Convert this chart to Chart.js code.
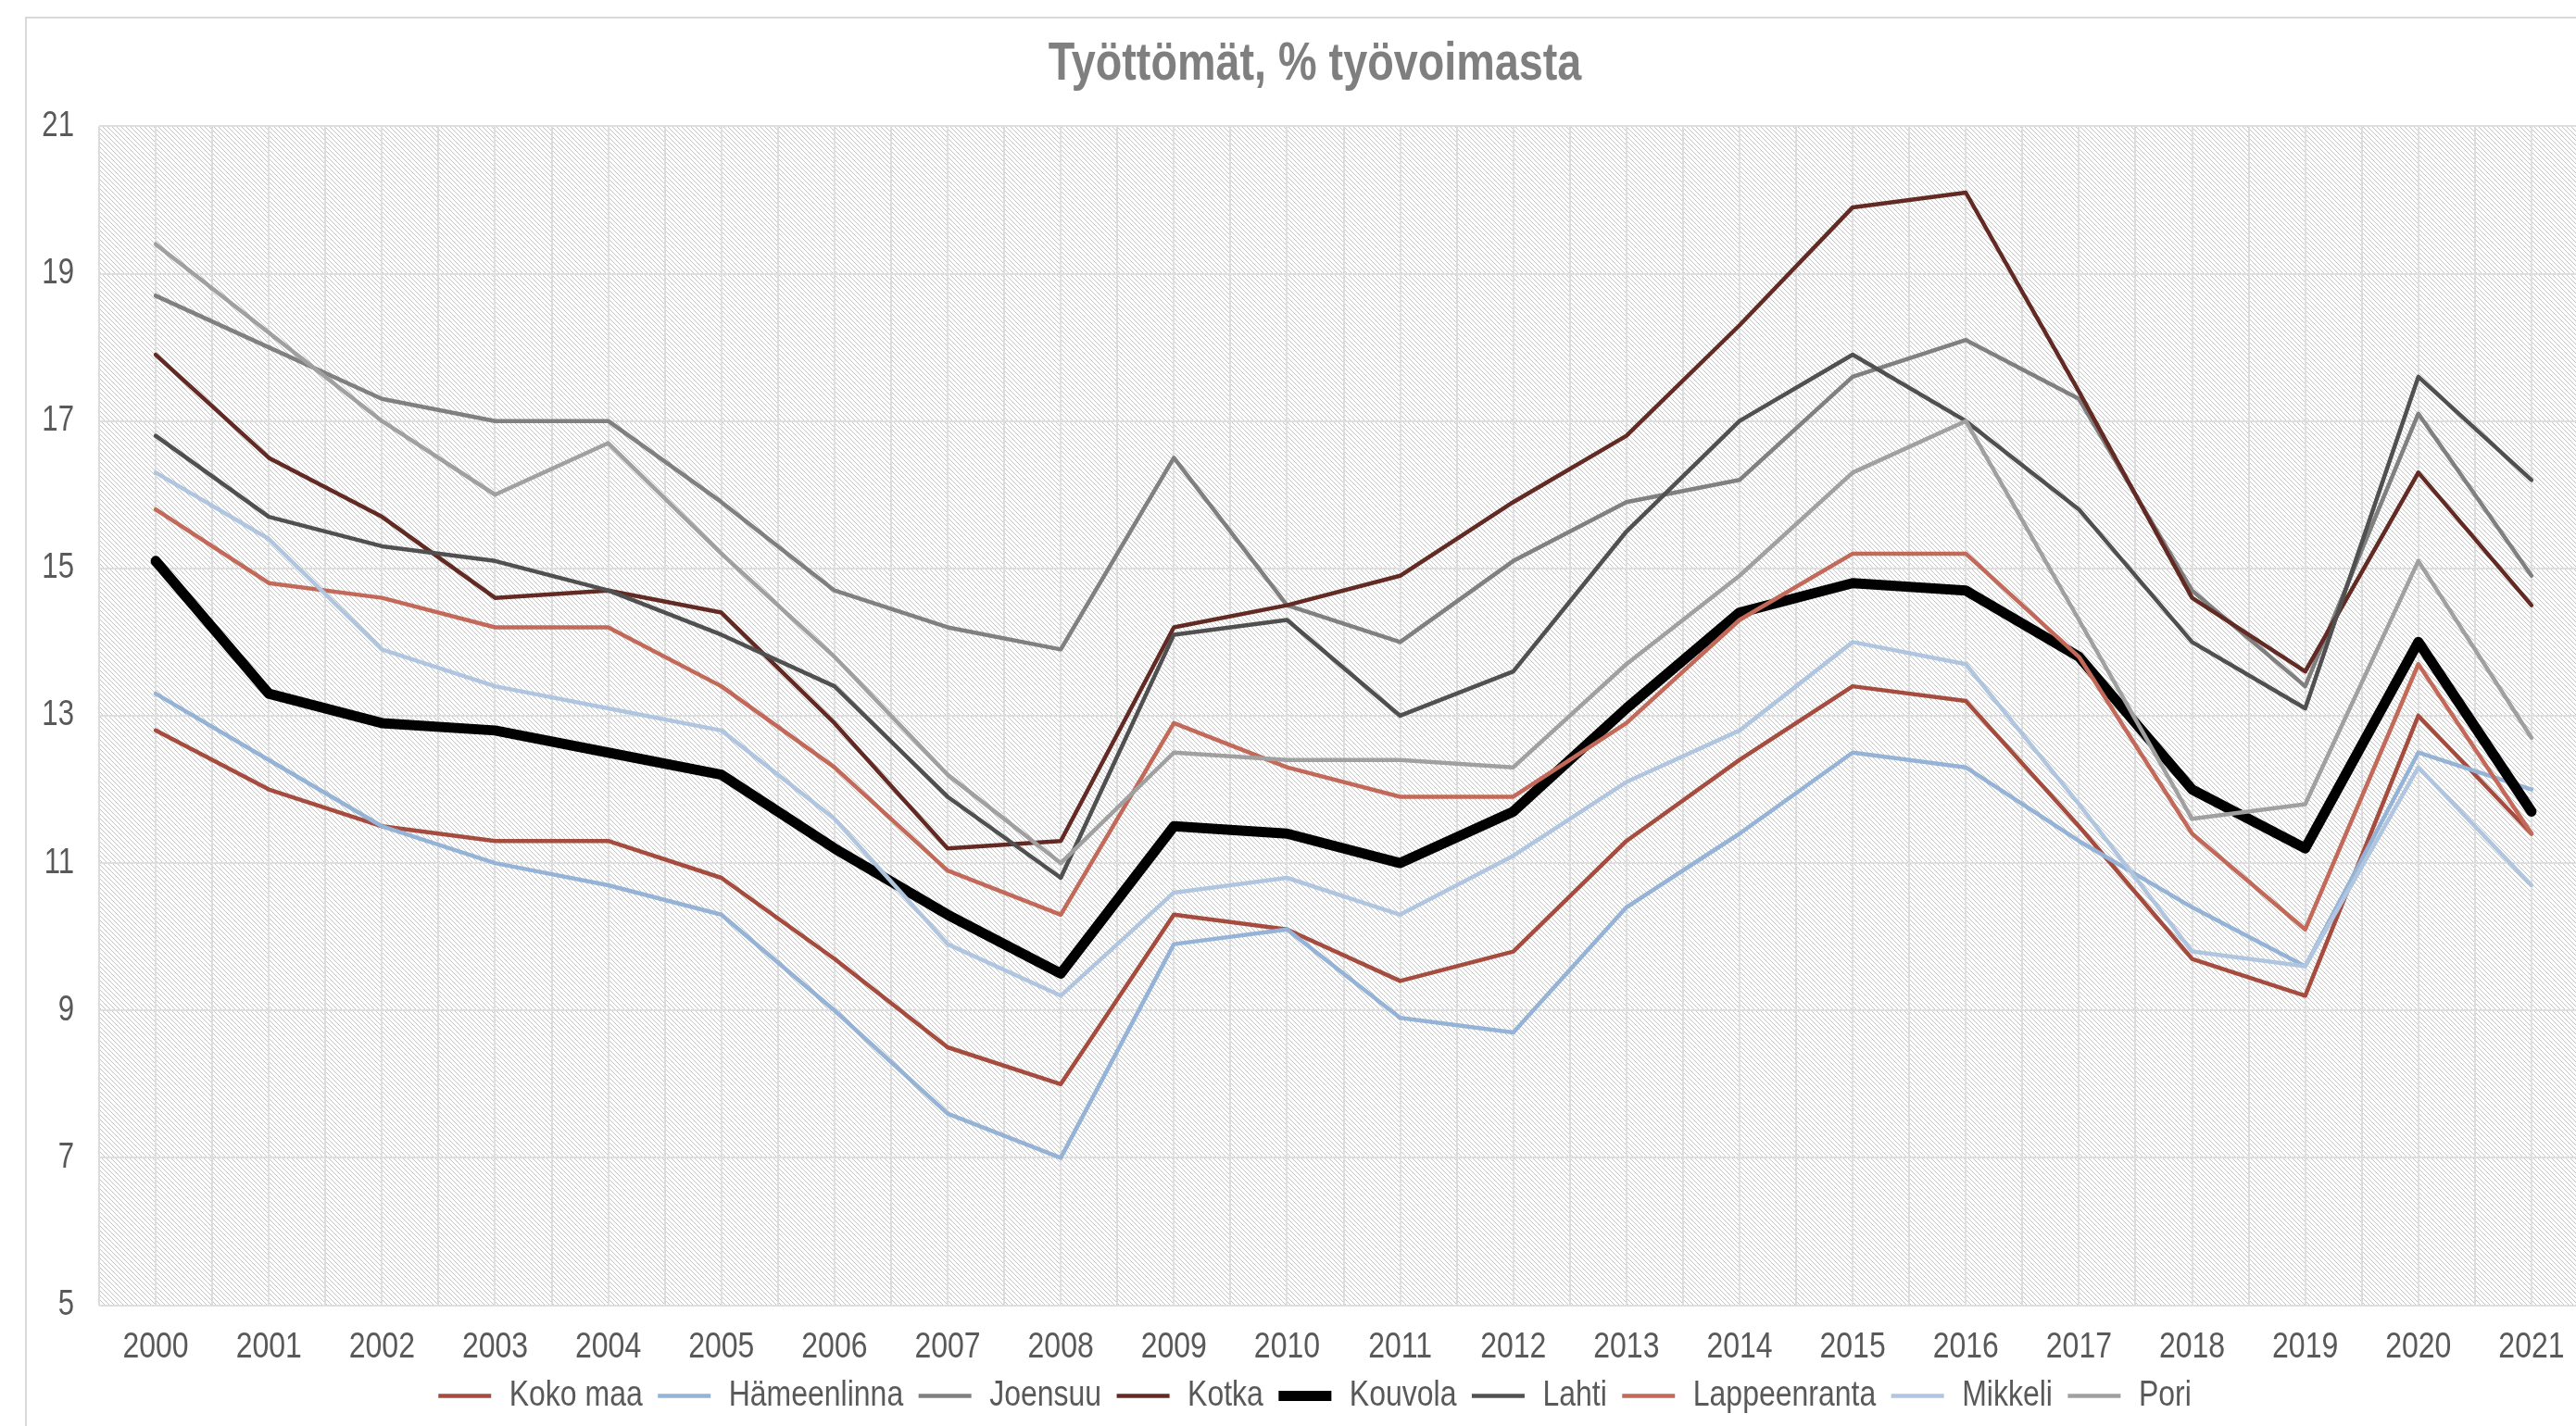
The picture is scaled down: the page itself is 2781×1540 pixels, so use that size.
<!DOCTYPE html>
<html>
<head>
<meta charset="utf-8">
<script src="https://cdn.jsdelivr.net/npm/chart.js@4.4.1/dist/chart.umd.min.js"></script>
<style>
html,body{margin:0;padding:0;background:#fff;overflow:hidden;width:2781px;height:1540px;}
#wrap{position:absolute;left:27px;top:18px;width:2788px;height:1540px;border:2px solid #d9d9d9;background:#fff;}
canvas{display:block;}
</style>
</head>
<body>
<div id="wrap"><canvas id="c" width="2788" height="1520"></canvas></div>
<script>
const years = ['2000','2001','2002','2003','2004','2005','2006','2007','2008','2009','2010','2011','2012','2013','2014','2015','2016','2017','2018','2019','2020','2021'];
const yTicks = [5, 7, 9, 11, 13, 15, 17, 19, 21];
const titleText = 'Työttömät, % työvoimasta';

const kokoMaa      = [12.8, 12.0, 11.5, 11.3, 11.3, 10.8, 9.7, 8.5, 8.0, 10.3, 10.1, 9.4, 9.8, 11.3, 12.4, 13.4, 13.2, 11.5, 9.7, 9.2, 13.0, 11.4];
const hameenlinna  = [13.3, 12.4, 11.5, 11.0, 10.7, 10.3, 9.0, 7.6, 7.0, 9.9, 10.1, 8.9, 8.7, 10.4, 11.4, 12.5, 12.3, 11.3, 10.4, 9.6, 12.5, 12.0];
const joensuu      = [18.7, 18.0, 17.3, 17.0, 17.0, 15.9, 14.7, 14.2, 13.9, 16.5, 14.5, 14.0, 15.1, 15.9, 16.2, 17.6, 18.1, 17.3, 14.7, 13.4, 17.1, 14.9];
const kotka        = [17.9, 16.5, 15.7, 14.6, 14.7, 14.4, 12.9, 11.2, 11.3, 14.2, 14.5, 14.9, 15.9, 16.8, 18.3, 19.9, 20.1, 17.4, 14.6, 13.6, 16.3, 14.5];
const kouvola      = [15.1, 13.3, 12.9, 12.8, 12.5, 12.2, 11.2, 10.3, 9.5, 11.5, 11.4, 11.0, 11.7, 13.1, 14.4, 14.8, 14.7, 13.8, 12.0, 11.2, 14.0, 11.7];
const lahti        = [16.8, 15.7, 15.3, 15.1, 14.7, 14.1, 13.4, 11.9, 10.8, 14.1, 14.3, 13.0, 13.6, 15.5, 17.0, 17.9, 17.0, 15.8, 14.0, 13.1, 17.6, 16.2];
const lappeenranta = [15.8, 14.8, 14.6, 14.2, 14.2, 13.4, 12.3, 10.9, 10.3, 12.9, 12.3, 11.9, 11.9, 12.9, 14.3, 15.2, 15.2, 13.8, 11.4, 10.1, 13.7, 11.4];
const mikkeli      = [16.3, 15.4, 13.9, 13.4, 13.1, 12.8, 11.6, 9.9, 9.2, 10.6, 10.8, 10.3, 11.1, 12.1, 12.8, 14.0, 13.7, 11.8, 9.8, 9.6, 12.3, 10.7];
const pori         = [19.4, 18.2, 17.0, 16.0, 16.7, 15.2, 13.8, 12.2, 11.0, 12.5, 12.4, 12.4, 12.3, 13.7, 14.9, 16.3, 17.0, 14.3, 11.6, 11.8, 15.1, 12.7];

const seriesNames = ['Koko maa','Hämeenlinna','Joensuu','Kotka','Kouvola','Lahti','Lappeenranta','Mikkeli','Pori'];
const seriesData  = [kokoMaa, hameenlinna, joensuu, kotka, kouvola, lahti, lappeenranta, mikkeli, pori];
const seriesColors = ['#a64c3e','#95b3d7','#808080','#632a24','#000000','#505050','#c3695a','#b0c6e0','#a0a0a0'];
const seriesWidths = [4.5, 4.5, 4.5, 4.5, 11, 4.5, 4.5, 4.5, 4.5];

const FONT = "'Liberation Sans', Arial, sans-serif";
Chart.defaults.font.family = FONT;

// Arial Narrow look: horizontally condense the chart's text (real text, drawn by the library)
const NARROW = 0.82;
const narrowText = {
  id: 'narrowText',
  beforeInit(chart) {
    const ctx = chart.ctx;
    const origFill = ctx.fillText.bind(ctx);
    const origMeasure = ctx.measureText.bind(ctx);
    ctx.fillText = function(text, x, y, maxWidth) {
      ctx.save();
      ctx.translate(x, y);
      ctx.scale(NARROW, 1);
      if (maxWidth === undefined || maxWidth === null) origFill(text, 0, 0);
      else origFill(text, 0, 0, maxWidth / NARROW);
      ctx.restore();
    };
    ctx.measureText = function(text) {
      const m = origMeasure(text);
      return {
        width: m.width * NARROW,
        actualBoundingBoxLeft: m.actualBoundingBoxLeft * NARROW,
        actualBoundingBoxRight: m.actualBoundingBoxRight * NARROW,
        actualBoundingBoxAscent: m.actualBoundingBoxAscent,
        actualBoundingBoxDescent: m.actualBoundingBoxDescent,
        fontBoundingBoxAscent: m.fontBoundingBoxAscent,
        fontBoundingBoxDescent: m.fontBoundingBoxDescent
      };
    };
  }
};

// hatch pattern for plot area
const tile = document.createElement('canvas');
tile.width = 5; tile.height = 5;
const tctx = tile.getContext('2d');
tctx.fillStyle = '#ffffff'; tctx.fillRect(0,0,5,5);
tctx.fillStyle = '#c4c4c4';
for (let i = 0; i < 5; i++) tctx.fillRect(i, i, 1, 1);

const hatchPlugin = {
  id: 'hatch',
  beforeDraw(chart) {
    const {ctx, chartArea} = chart;
    ctx.save();
    ctx.fillStyle = ctx.createPattern(tile, 'repeat');
    ctx.fillRect(chartArea.left, chartArea.top, chartArea.right - chartArea.left, chartArea.bottom - chartArea.top);
    ctx.restore();
  }
};

const n = seriesNames.length;
const datasets = seriesNames.map((name, i) => ({
  label: name,
  data: seriesData[i],
  borderColor: seriesColors[i],
  backgroundColor: seriesColors[i],
  borderWidth: seriesWidths[i],
  pointRadius: 0,
  pointHoverRadius: 0,
  pointStyle: 'line',
  tension: 0,
  fill: false,
  borderCapStyle: 'round',
  borderJoinStyle: 'round',
  order: n - 1 - i
}));

new Chart(document.getElementById('c'), {
  type: 'line',
  data: { labels: years, datasets },
  plugins: [narrowText, hatchPlugin],
  options: {
    responsive: false,
    animation: false,
    devicePixelRatio: 1,
    layout: { padding: { left: 16, right: 23, top: 0, bottom: 3 } },
    plugins: {
      title: {
        display: true,
        text: titleText,
        color: '#7f7f7f',
        font: { family: FONT, size: 57, weight: 'bold' },
        padding: { top: 16, bottom: 32 }
      },
      legend: {
        position: 'bottom',
        labels: {
          usePointStyle: true,
          pointStyleWidth: 57,
          padding: 16.5,
          color: '#595959',
          font: { family: FONT, size: 39 },
          sort: (a, b) => a.datasetIndex - b.datasetIndex
        }
      },
      tooltip: { enabled: false }
    },
    scales: {
      x: {
        type: 'category',
        offset: true,
        grid: { offset: false, color: '#e0e0e0', lineWidth: 2, drawTicks: false },
        border: { display: false },
        ticks: { color: '#595959', font: { family: FONT, size: 39 }, padding: 22, autoSkip: false, maxRotation: 0 },
        afterFit: (scale) => { scale.height = 62; }
      },
      x2: {
        type: 'category',
        labels: years,
        position: 'bottom',
        offset: true,
        grid: { offset: true, color: '#dcdcdc', lineWidth: 2, drawTicks: false },
        border: { display: false },
        ticks: { display: false },
        afterFit: (scale) => { scale.height = 0; }
      },
      y: {
        min: 5,
        max: 21,
        afterBuildTicks: (scale) => { scale.ticks = yTicks.map(v => ({ value: v })); },
        grid: { color: '#dedede', lineWidth: 2, drawTicks: false },
        border: { display: false },
        ticks: { color: '#595959', font: { family: FONT, size: 38 }, padding: 27 },
        afterFit: (scale) => { scale.width = 62; }
      }
    }
  }
});
</script>
</body>
</html>
